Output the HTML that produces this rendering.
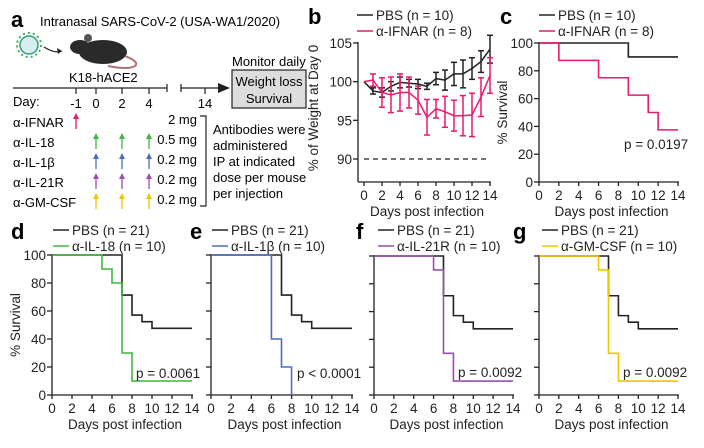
<!DOCTYPE html>
<html><head><meta charset="utf-8"><style>
body{margin:0;background:#fff;width:704px;height:443px;overflow:hidden}
svg{font-family:"Liberation Sans",Arial,sans-serif}
</style></head><body>
<svg id="fig" width="704" height="443" viewBox="0 0 704 443" xmlns="http://www.w3.org/2000/svg">
<g id="panelA" font-size="13">
<text x="11" y="27" font-size="22" font-weight="bold">a</text>
<text x="40" y="26">Intranasal SARS-CoV-2 (USA-WA1/2020)</text>
<g>
<circle cx="29" cy="45" r="9" fill="#d8eeee" stroke="#3a9a7a" stroke-width="1.5"/>
<circle cx="29" cy="45" r="12" fill="none" stroke="#3cb05a" stroke-width="2" stroke-dasharray="2 3"/>
</g>
<path d="M44 47 Q55 54 62 51" fill="none" stroke="#222" stroke-width="1.2"/>
<polygon points="62,51 57,48 58,54" fill="#222"/>
<g>
<ellipse cx="103" cy="52" rx="24" ry="12" fill="#2a2a2a"/>
<ellipse cx="80" cy="47" rx="10" ry="7" fill="#2a2a2a"/>
<circle cx="88" cy="38" r="4" fill="#555"/>
<path d="M125 56 Q140 62 135 66 Q128 70 108 66" fill="none" stroke="#b07070" stroke-width="2"/>
</g>
<text x="69" y="82">K18-hACE2</text>
<g stroke="#222" stroke-width="1.2">
<line x1="13" y1="88" x2="167" y2="88"/><line x1="167" y1="84" x2="167" y2="92"/>
<line x1="181" y1="84" x2="181" y2="92"/><line x1="181" y1="88" x2="222" y2="88"/>
<line x1="76" y1="88" x2="76" y2="94"/><line x1="96" y1="88" x2="96" y2="94"/><line x1="122" y1="88" x2="122" y2="94"/><line x1="149" y1="88" x2="149" y2="94"/><line x1="205" y1="88" x2="205" y2="94"/>
</g>
<polygon points="230,88 218,83 218,93" fill="#222"/>
<text x="13" y="106">Day:</text>
<g text-anchor="middle"><text x="76" y="108">-1</text><text x="96" y="108">0</text><text x="122" y="108">2</text><text x="149" y="108">4</text><text x="205" y="108">14</text></g>
<text x="232" y="66">Monitor daily</text>
<rect x="232" y="70" width="74" height="38" fill="#ddd" stroke="#222" stroke-width="1.2"/>
<text x="269" y="86" text-anchor="middle">Weight loss</text>
<text x="269" y="103" text-anchor="middle">Survival</text>
<g id="rows"></g>
<path d="M200 116 L206 116 L206 206 L200 206" fill="none" stroke="#222" stroke-width="1.2"/>
<g><text x="213" y="134">Antibodies were</text><text x="213" y="150">administered</text><text x="213" y="166">IP at indicated</text><text x="213" y="182">dose per mouse</text><text x="213" y="198">per injection</text></g>
</g>
<g id="charts"></g>
</svg>
<script>
const NS="http://www.w3.org/2000/svg";
const svg=document.getElementById('fig');
function mk(tag,attrs,parent,text){const e=document.createElementNS(NS,tag);for(const k in attrs)e.setAttribute(k,attrs[k]);if(text!==undefined)e.textContent=text;(parent||svg).appendChild(e);return e;}

const abNames=["α-IFNAR","α-IL-18","α-IL-1β","α-IL-21R","α-GM-CSF"];
const abDoses=["2 mg","0.5 mg","0.2 mg","0.2 mg","0.2 mg"];
const abColors=["#e8196e","#3cb93c","#4a6fc0","#9b4fb0","#f5c400"];
const rowsG=document.getElementById('rows');
abNames.forEach((n,i)=>{
 const y=127+i*20;
 const t=mk('text',{x:13,y:y},rowsG,n);
 
 
 const d=mk('text',{x:197,y:y-3,'text-anchor':'end'},rowsG,abDoses[i]);
 
 
 const xs=i===0?[76]:[96,122,149];
 xs.forEach(x=>{
  const a=mk('g',{},rowsG);
  
  
  mk('line',{x1:x,y1:y+2,x2:x,y2:y-10,stroke:abColors[i],'stroke-width':1.3},a);
  mk('polygon',{points:`${x},${y-14} ${x-3},${y-8} ${x+3},${y-8}`,fill:abColors[i]},a);
 });
});

const days=[0,1,2,3,4,5,6,7,8,9,10,11,12,13,14];
const pbsWeight=[100,98.8,98.6,99.4,99.9,99.8,99.7,99.4,100.4,100.2,101,101,101.7,102.6,104.2];
const pbsErr=[0,0.4,0.6,0.6,0.7,0.5,0.6,0.4,0.8,1.3,1.5,1.8,1.4,1.4,1.8];
const ifnarWeight=[100,100.2,98.6,98.3,98.6,98.6,97.6,95.4,96.5,96.1,95.6,95.6,95.7,98,100.8];
const ifnarErr=[0,0.8,1.9,2.3,2.4,2.0,1.8,2.3,1.2,2,2,2.6,2.8,2.5,2.3];
const weightTicks=[90,95,100,105];
const xTicks=[0,2,4,6,8,10,12,14];

const survC_pbs=[[0,100],[9,90],[14,90]];
const survC_ifnar=[[0,100],[2,87.5],[6,75],[9,62.5],[11,50],[12,37.5],[14,37.5]];
const survPBS21=[[0,100],[7,71.4],[8,57.1],[9,52.4],[10,47.6],[14,47.6]];
const survIL18=[[0,100],[5,90],[6,80],[7,30],[8,10],[14,10]];
const survIL1b=[[0,100],[6,40],[7,20],[8,0]];
const survIL21R=[[0,100],[6,90],[7,30],[8,10],[14,10]];
const survGMCSF=[[0,100],[6,90],[7,30],[8,10],[14,10]];
const survTicks=[0,20,40,60,80,100];

const FS=13.5;
const charts=document.getElementById('charts');
function axes(g,x0,x1,yTop,yBot,sx,sy,yticks,showYLabels){
 const ax=mk('g',{stroke:'#222','stroke-width':1.3,fill:'none'},g);
 
 
 mk('line',{x1:x0,y1:yTop-1,x2:x0,y2:yBot},ax);
 mk('line',{x1:x0,y1:yBot,x2:x1+1,y2:yBot},ax);
 xTicks.forEach(v=>{mk('line',{x1:sx(v),y1:yBot,x2:sx(v),y2:yBot+4},ax);
  const t=mk('text',{x:sx(v),y:yBot+18,'text-anchor':'middle','font-size':FS,fill:'#222',stroke:'none'},g,String(v));
  
  });
 yticks.forEach(v=>{mk('line',{x1:x0-5,y1:sy(v),x2:x0,y2:sy(v)},ax);
  if(showYLabels){const t=mk('text',{x:x0-6,y:sy(v)+5,'text-anchor':'end','font-size':FS,fill:'#222'},g,String(v));
  
  }});
 const xt=mk('text',{x:(x0+x1)/2+3,y:yBot+34,'text-anchor':'middle','font-size':FS,fill:'#222'},g,'Days post infection');
 
 
}
function legend(g,x,y,entries){
 entries.forEach((e,i)=>{
  const lg=mk('g',{},g);
  
  
  mk('line',{x1:x,y1:y+i*16-5,x2:x+16,y2:y+i*16-5,stroke:e[1],'stroke-width':1.5},lg);
  mk('text',{x:x+19,y:y+i*16,'font-size':FS,fill:'#222'},lg,e[0]);
 });
}
function letter(g,x,y,l){const t=mk('text',{x:x,y:y,'font-size':22,'font-weight':'bold'},g,l);
 
 }
function ytitle(g,x,y,s){const t=mk('text',{transform:`translate(${x},${y}) rotate(-90)`,'text-anchor':'middle','font-size':FS,fill:'#222'},g,s);
 
 }
function step(g,pts,sx,sy,color,name){
 let d=`M${sx(pts[0][0])},${sy(pts[0][1])}`;
 for(let i=1;i<pts.length;i++){d+=` H${sx(pts[i][0])} V${sy(pts[i][1])}`;}
 const p=mk('path',{d:d,fill:'none',stroke:color,'stroke-width':1.6},g);
 
 
}

(function(){
 const g=mk('g',{},charts);
 
 
 const x0=358,xa=364,xb=490,yT=43,yB=182;
 const sx=v=>xa+(xb-xa)*v/14, sy=v=>159-(159-43)*(v-90)/15;
 letter(g,308,24,'b');
 legend(g,357,20,[["PBS (n = 10)","#222"],["α-IFNAR (n = 8)","#e8196e"]]);
 axes(g,x0,xb,yT,yB,sx,sy,weightTicks,true);
 ytitle(g,318,108,'% of Weight at Day 0');
 const dl=mk('line',{x1:sx(0),y1:sy(90),x2:sx(14),y2:sy(90),stroke:'#222','stroke-width':1.3,'stroke-dasharray':'5 4'},g);
 
 
 [[pbsWeight,pbsErr,'#222','pbs'],[ifnarWeight,ifnarErr,'#e8196e','ifnar']].forEach(([vals,errs,c,n])=>{
  const sg=mk('g',{stroke:c,'stroke-width':1.5,fill:'none'},g);
  
  
  mk('polyline',{points:days.map((d,i)=>sx(d)+','+sy(vals[i])).join(' ')},sg);
  days.forEach((d,i)=>{if(errs[i]>0){const x=sx(d);
   mk('line',{x1:x,y1:sy(vals[i]-errs[i]),x2:x,y2:sy(vals[i]+errs[i])},sg);
   mk('line',{x1:x-3,y1:sy(vals[i]-errs[i]),x2:x+3,y2:sy(vals[i]-errs[i])},sg);
   mk('line',{x1:x-3,y1:sy(vals[i]+errs[i]),x2:x+3,y2:sy(vals[i]+errs[i])},sg);}});
 });
})();

function survPanel(l,x0,x14,yT,yB,legX,legY,entries,series,pText,pX,pY,showY,letterX){
 const g=mk('g',{},charts);
 
 
 const sx=v=>x0+(x14-x0)*v/14, sy=v=>yB-(yB-yT)*v/100;
 letter(g,letterX,legY+4,l);
 legend(g,legX,legY,entries);
 axes(g,x0,x14,yT,yB,sx,sy,survTicks,showY);
 if(showY) ytitle(g,x0-32,(yT+yB)/2,'% Survival');
 series.forEach(s=>step(g,s[0],sx,sy,s[1],s[2]));
 const p=mk('text',{x:pX,y:pY,'font-size':FS,fill:'#222'},g,pText);
 
 
}
survPanel('c',539,678,43,182,539,20,[["PBS (n = 10)","#222"],["α-IFNAR (n = 8)","#e8196e"]],
 [[survC_pbs,'#222','pbs-survival'],[survC_ifnar,'#e8196e','ifnar-survival']],'p = 0.0197',624,149,true,500);
survPanel('d',52,192,255,395,53,235,[["PBS (n = 21)","#222"],["α-IL-18 (n = 10)","#3cb93c"]],
 [[survPBS21,'#222','pbs-survival'],[survIL18,'#3cb93c','il18-survival']],'p = 0.0061',136,378,true,11);
survPanel('e',211,352,255,395,212,235,[["PBS (n = 21)","#222"],["α-IL-1β (n = 10)","#4a6fc0"]],
 [[survPBS21,'#222','pbs-survival'],[survIL1b,'#4a6fc0','il1b-survival']],'p < 0.0001',297,378,false,190);
survPanel('f',374,513,256,395,378,235,[["PBS (n = 21)","#222"],["α-IL-21R (n = 10)","#9b4fb0"]],
 [[survPBS21,'#222','pbs-survival'],[survIL21R,'#9b4fb0','il21r-survival']],'p = 0.0092',458,377,false,356);
survPanel('g',539,678,256,395,542,235,[["PBS (n = 21)","#222"],["α-GM-CSF (n = 10)","#f5c400"]],
 [[survPBS21,'#222','pbs-survival'],[survGMCSF,'#f5c400','gmcsf-survival']],'p = 0.0092',623,377,false,513);
</script>
</body></html>
